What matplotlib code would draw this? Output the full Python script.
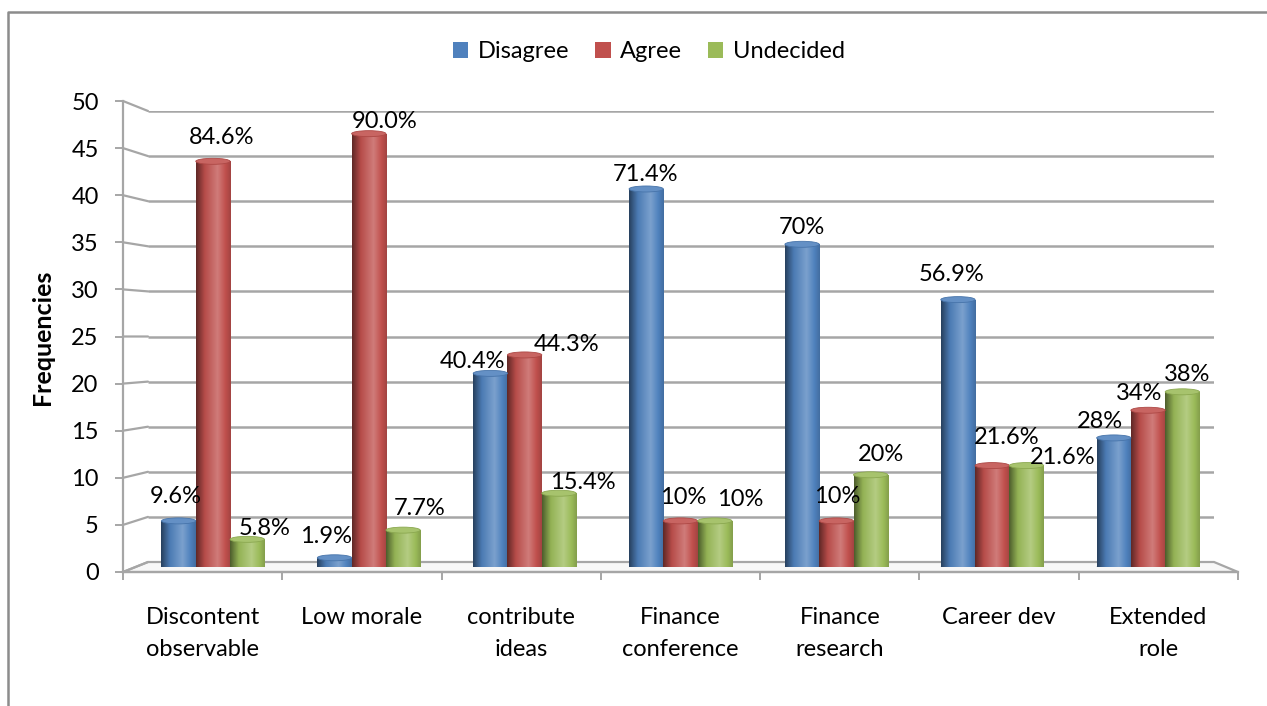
import matplotlib
matplotlib.use('Agg')
import matplotlib.pyplot as plt
import numpy as np
from matplotlib.patches import Ellipse, Polygon, ConnectionPatch, Rectangle
from matplotlib.lines import Line2D
import matplotlib.colors as mcolors

# ---------------- data ----------------
categories = ["Discontent\nobservable", "Low morale", "contribute\nideas",
              "Finance\nconference", "Finance\nresearch", "Career dev", "Extended\nrole"]
series_names = ["Disagree", "Agree", "Undecided"]
disagree = [5, 1, 21, 41, 35, 29, 14]
agree = [44, 47, 23, 5, 5, 11, 17]
undecided = [3, 4, 8, 5, 10, 11, 19]
disagree_labels = ["9.6%", "1.9%", "40.4%", "71.4%", "70%", "56.9%", "28%"]
agree_labels = ["84.6%", "90.0%", "44.3%", "10%", "10%", "21.6%", "34%"]
undecided_labels = ["5.8%", "7.7%", "15.4%", "10%", "20%", "21.6%", "38%"]
y_ticks = [0, 5, 10, 15, 20, 25, 30, 35, 40, 45, 50]

# ---------------- style ----------------
colors = ["#4F81BD", "#C0504D", "#9BBB59"]
# label offsets in pixels (dx right, dy up) relative to bar top centre
label_offsets = [
    [(-3, 24), (-8, 21), (-18, 12), (-1, 14), (0, 17), (-6, 25), (-14, 16)],
    [(9, 24), (16, 12), (42, 10), (3, 23), (1, 24), (14, 28), (-9, 17)],
    [(17, 11), (17, 22), (24, 11), (25, 21), (10, 20), (36, 8), (5, 17)],
]
plt.rcParams['font.family'] = ['Lato', 'DejaVu Sans']
FS = 17
GRID = "#a6a6a6"

W, H = 1267, 706
fig = plt.figure(figsize=(W / 100, H / 100), dpi=100)


def px_rect(x0, x1, ytop, ybot):
    return [x0 / W, 1 - ybot / H, (x1 - x0) / W, (ybot - ytop) / H]


axb = fig.add_axes(px_rect(148, 1214, 111, 562), zorder=0)   # back wall
ax = fig.add_axes(px_rect(135, 1226, 106, 567), zorder=1)    # bars
axf = fig.add_axes(px_rect(123, 1238, 101, 572), zorder=2)   # front axis
for a in (axb, ax, axf):
    a.set_xlim(-0.5, 6.5)
    a.set_ylim(0, 50)
    a.patch.set_visible(False)
for a in (axb, ax):
    a.set_axis_off()

n = len(categories)
xmin, xmax = -0.5, n - 0.5


def to_fig(a, pt):
    return fig.transFigure.inverted().transform(a.transData.transform(pt))


# floor (between front and back planes)
floor_pts = [to_fig(axf, (xmin, 0)), to_fig(axf, (xmax, 0)),
             to_fig(axb, (xmax, 0)), to_fig(axb, (xmin, 0))]
axb.add_patch(Polygon(floor_pts, closed=True, transform=fig.transFigure,
                      facecolor="#f7f7f7", edgecolor=GRID, lw=1.6, clip_on=False))

# back gridlines + slanted connectors
for yv in y_ticks:
    if yv > 0:
        axb.plot([xmin, xmax], [yv, yv], color=GRID, lw=1.8, solid_capstyle='butt', zorder=1)
    cp = ConnectionPatch(xyA=(xmin, yv), coordsA=axf.transData,
                         xyB=(xmin, yv), coordsB=axb.transData,
                         color=GRID, lw=1.6)
    fig.add_artist(cp)

# front axis
for s in ("top", "right"):
    axf.spines[s].set_visible(False)
axf.spines["left"].set_color(GRID)
axf.spines["left"].set_linewidth(1.6)
axf.spines["bottom"].set_color(GRID)
axf.spines["bottom"].set_linewidth(1.6)
axf.set_yticks(y_ticks)
axf.set_yticklabels([str(v) for v in y_ticks], fontsize=FS)
axf.tick_params(axis='y', direction='out', length=5.5, width=1.4, color=GRID, pad=12)
axf.set_xticks(np.arange(n + 1) - 0.5)
axf.set_xticklabels([])
axf.tick_params(axis='x', which='major', direction='out', length=6, width=1.4, color=GRID)
axf.set_xticks(np.arange(n), minor=True)
axf.set_xticklabels(categories, minor=True, fontsize=FS, linespacing=1.68)
axf.tick_params(axis='x', which='minor', length=0, pad=25)

# bars (cylinders)
w = 0.22
bbox = ax.get_position()
ax_h_px = bbox.height * H
ell_h = 6 * 50 / ax_h_px
t = np.linspace(0, 1, 64)


def gradient(base):
    b = np.array(mcolors.to_rgb(base))
    dark = b * 0.5
    light = b + (1 - b) * 0.25
    stops_t = [0.0, 0.25, 0.62, 0.85, 1.0]
    cols = [dark, b * 0.95, light, b * 1.0, b * 0.85]
    out = np.zeros((1, len(t), 3))
    for k in range(3):
        out[0, :, k] = np.interp(t, stops_t, [c[k] for c in cols])
    return np.clip(out, 0, 1), light


all_vals = [disagree, agree, undecided]
all_labels = [disagree_labels, agree_labels, undecided_labels]
for j, (vals, base) in enumerate(zip(all_vals, colors)):
    xs = np.arange(n) + (j - 1) * w
    rects = ax.bar(xs, vals, width=w, color='none', edgecolor='none', zorder=2)
    grad, light = gradient(base)
    b = np.array(mcolors.to_rgb(base))
    top_col = b + (1 - b) * 0.12
    for x, v, r in zip(xs, vals, rects):
        im = ax.imshow(grad, extent=(x - w / 2, x + w / 2, 0, v), aspect='auto',
                       interpolation='bilinear', zorder=2)
        im.set_clip_path(r)
        ax.add_patch(Ellipse((x, 0), w, ell_h, facecolor=b * 0.8, edgecolor='none', zorder=1.9))
        ax.add_patch(Ellipse((x, v), w, ell_h, facecolor=top_col, edgecolor=b * 0.9, lw=0.6, zorder=2.1))
    for k, (x, v, lab) in enumerate(zip(xs, vals, all_labels[j])):
        dx, dy = label_offsets[j][k]
        ax.annotate(lab, (x, v), xytext=(dx, dy), textcoords='offset pixels',
                    ha='center', va='center', fontsize=FS, zorder=5)
ax.set_xlim(-0.5, 6.5)
ax.set_ylim(0, 50)

# y label
fig.text(42 / W, 1 - 337 / H, "Frequencies", rotation=90, fontweight='bold',
         ha='center', va='center', fontsize=18)

# legend
handles = [Rectangle((0, 0), 1, 1, facecolor=c, edgecolor='none') for c in colors]
fig.legend(handles, series_names, loc='center', bbox_to_anchor=(649 / W, 1 - 52 / H),
           ncol=3, frameon=False, fontsize=FS, handlelength=0.65, handleheight=0.65,
           handletextpad=0.4, columnspacing=1.1)

# chart border
fig.add_artist(Line2D([8 / W, 8 / W, 1.0], [0.0, 1 - 12 / H, 1 - 12 / H],
                      transform=fig.transFigure, color="#8c8c8c", lw=1.8))

fig.savefig("out.png", dpi=100)
